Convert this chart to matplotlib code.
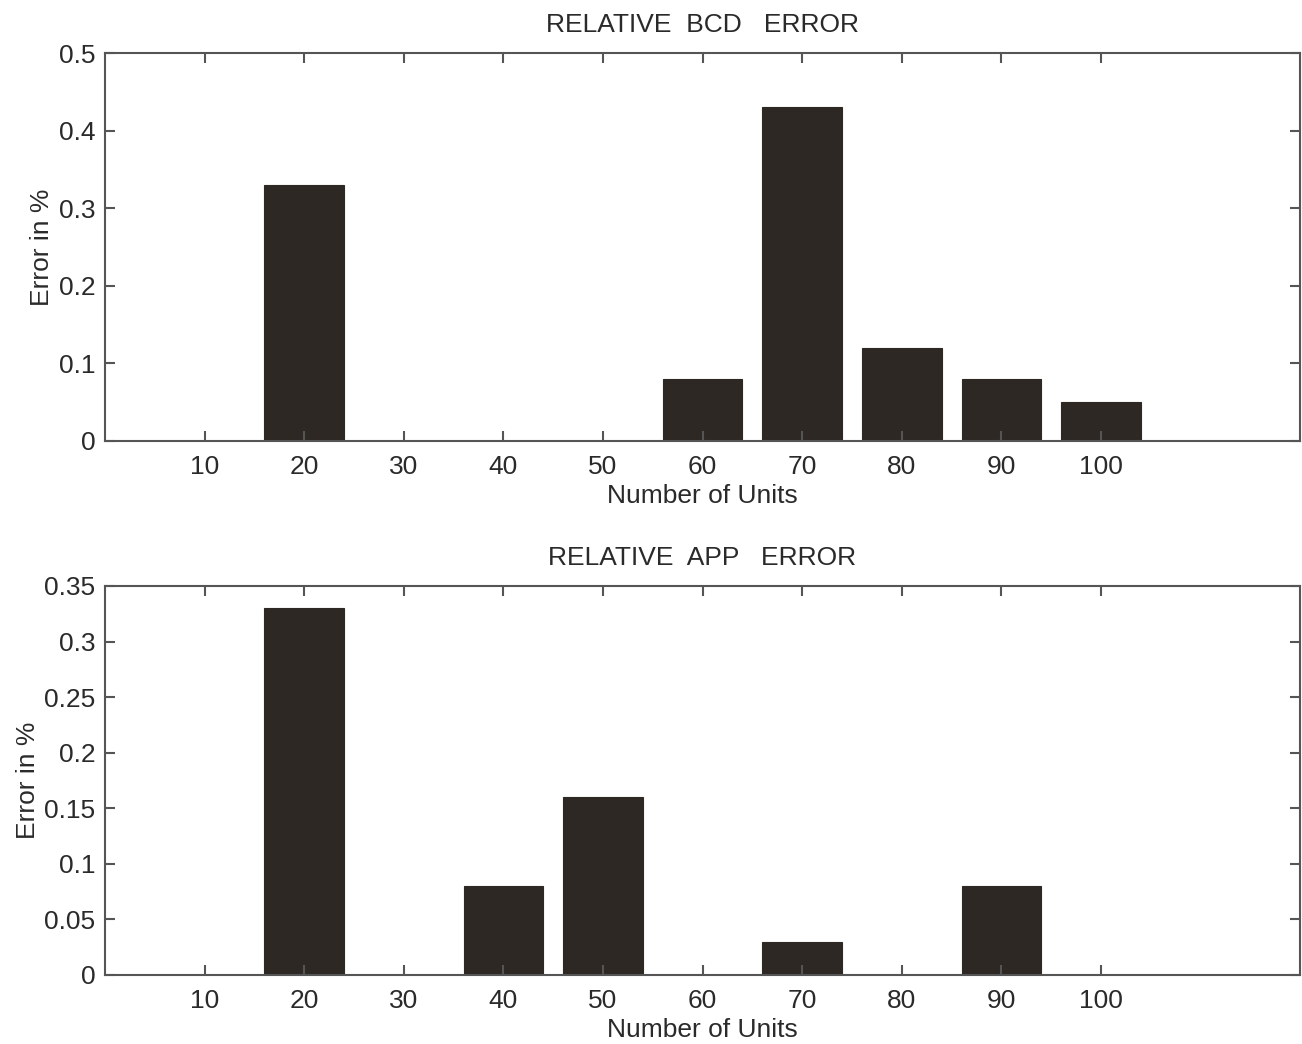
import matplotlib
matplotlib.use("Agg")
import matplotlib.pyplot as plt

plt.rcParams['font.family'] = ['Liberation Sans', 'DejaVu Sans']

units = [10, 20, 30, 40, 50, 60, 70, 80, 90, 100]
bcd_error = [0.0, 0.33, 0.0, 0.0, 0.0, 0.08, 0.43, 0.12, 0.08, 0.05]
app_error = [0.0, 0.33, 0.0, 0.08, 0.16, 0.0, 0.03, 0.0, 0.08, 0.0]
bcd_yticks = [0, 0.1, 0.2, 0.3, 0.4, 0.5]
bcd_ylabels = ['0', '0.1', '0.2', '0.3', '0.4', '0.5']
app_yticks = [0, 0.05, 0.1, 0.15, 0.2, 0.25, 0.3, 0.35]
app_ylabels = ['0', '0.05', '0.1', '0.15', '0.2', '0.25', '0.3', '0.35']

fig = plt.figure(figsize=(13.02, 10.44), dpi=100)
ax1 = fig.add_axes([0.0806, 0.5776, 0.918, 0.3716])
ax2 = fig.add_axes([0.0806, 0.0661, 0.918, 0.3726])

bar_color = '#2e2824'
spine_color = '#555555'
text_color = '#2a2a2a'

def style(ax, vals, yt, yl, ymax, title):
    ax.bar(units, vals, width=8, color=bar_color, edgecolor=bar_color, linewidth=0.8)
    ax.set_xlim(0, 120)
    ax.set_ylim(0, ymax)
    ax.set_xticks(units)
    ax.set_xticklabels([str(u) for u in units])
    ax.set_yticks(yt)
    ax.set_yticklabels(yl)
    ax.tick_params(direction='in', top=True, right=True, length=7, width=1.5,
                   colors=spine_color, labelcolor=text_color, labelsize=19)
    ax.tick_params(axis='x', pad=10)
    ax.tick_params(axis='y', pad=7)
    for s in ax.spines.values():
        s.set_color(spine_color)
        s.set_linewidth(1.5)
    ax.set_xlabel('Number of Units', fontsize=19, color=text_color, labelpad=4)
    ax.set_ylabel('Error in %', fontsize=19, color=text_color, labelpad=3)
    ax.set_title(title, fontsize=19, color=text_color, pad=15)

style(ax1, bcd_error, bcd_yticks, bcd_ylabels, 0.5, 'RELATIVE  BCD   ERROR')
style(ax2, app_error, app_yticks, app_ylabels, 0.35, 'RELATIVE  APP   ERROR')

fig.savefig('out.png', dpi=100)
